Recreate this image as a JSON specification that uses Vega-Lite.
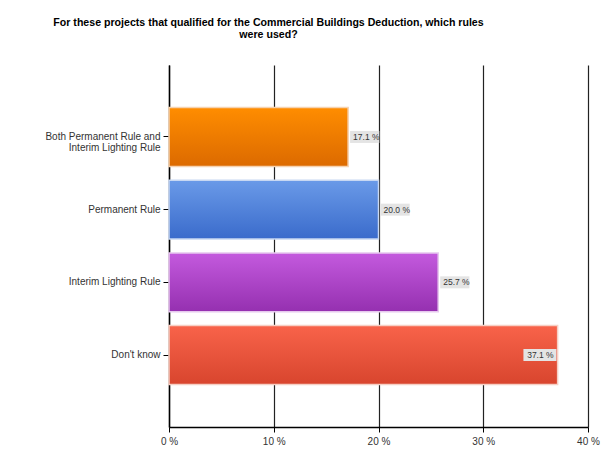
{
  "$schema": "https://vega.github.io/schema/vega-lite/v6.json",
  "width": 419,
  "height": 362,
  "autosize": {"type": "none"},
  "padding": {"left": 169, "top": 65, "right": 19, "bottom": 33},
  "background": "white",
  "title": {
    "text": ["For these projects that qualified for the Commercial Buildings Deduction, which rules", "were used?"],
    "font": "Liberation Sans",
    "fontSize": 10.6,
    "fontWeight": "bold",
    "color": "#000000",
    "anchor": "middle",
    "frame": "group",
    "dx": -110,
    "offset": 24,
    "lineHeight": 12
  },
  "config": {
    "view": {"stroke": null},
    "axis": {"labelFont": "Liberation Sans", "labelFontSize": 10, "labelColor": "#333333", "domainColor": "#000000", "tickColor": "#000000", "domainWidth": 1.5}
  },
  "data": {
    "values": [
      {"rule": "Both Permanent Rule and Interim Lighting Rule", "pct": 17.1, "label": "17.1 %", "pos": "out"},
      {"rule": "Permanent Rule", "pct": 20.0, "label": "20.0 %", "pos": "out"},
      {"rule": "Interim Lighting Rule", "pct": 25.7, "label": "25.7 %", "pos": "out"},
      {"rule": "Don't know", "pct": 37.1, "label": "37.1 %", "pos": "in"}
    ]
  },
  "encoding": {
    "y": {
      "field": "rule", "type": "nominal", "sort": null,
      "scale": {"paddingInner": 0.19, "paddingOuter": 0.585},
      "axis": {
        "title": null, "tickSize": 6, "labelPadding": 3, "labelLineHeight": 11,
        "labelExpr": "datum.value == 'Both Permanent Rule and Interim Lighting Rule' ? ['Both Permanent Rule and', 'Interim Lighting Rule'] : datum.value"
      }
    },
    "x": {
      "field": "pct", "type": "quantitative",
      "scale": {"domain": [0, 40], "nice": false},
      "axis": {
        "title": null, "values": [0, 10, 20, 30, 40], "tickSize": 5, "labelPadding": 4, "labelFlush": false,
        "labelExpr": "datum.value + ' %'", "grid": true, "gridColor": "#222222", "gridWidth": 1.2
      }
    }
  },
  "layer": [
    {
      "transform": [{"filter": "datum.rule == 'Both Permanent Rule and Interim Lighting Rule'"}],
      "mark": {"type": "bar", "stroke": "#f5d2b0", "strokeWidth": 1.5,
        "color": {"gradient": "linear", "x1": 0, "y1": 0, "x2": 0, "y2": 1, "stops": [{"offset": 0, "color": "#ff8d00"}, {"offset": 1, "color": "#dc6a00"}]}}
    },
    {
      "transform": [{"filter": "datum.rule == 'Permanent Rule'"}],
      "mark": {"type": "bar", "stroke": "#c8d8f2", "strokeWidth": 1.5,
        "color": {"gradient": "linear", "x1": 0, "y1": 0, "x2": 0, "y2": 1, "stops": [{"offset": 0, "color": "#6a9ae8"}, {"offset": 1, "color": "#3a6bcb"}]}}
    },
    {
      "transform": [{"filter": "datum.rule == 'Interim Lighting Rule'"}],
      "mark": {"type": "bar", "stroke": "#e6c8ee", "strokeWidth": 1.5,
        "color": {"gradient": "linear", "x1": 0, "y1": 0, "x2": 0, "y2": 1, "stops": [{"offset": 0, "color": "#c45ade"}, {"offset": 1, "color": "#9530b0"}]}}
    },
    {
      "transform": [{"filter": "datum.rule == \"Don't know\""}],
      "mark": {"type": "bar", "stroke": "#f6cfc4", "strokeWidth": 1.5,
        "color": {"gradient": "linear", "x1": 0, "y1": 0, "x2": 0, "y2": 1, "stops": [{"offset": 0, "color": "#f8634a"}, {"offset": 1, "color": "#d8452e"}]}}
    },
    {
      "transform": [{"filter": "datum.pos == 'out'"}],
      "mark": {"type": "point", "filled": true, "fill": "#e4e4e4", "opacity": 1, "strokeWidth": 0, "size": 144,
        "shape": "M0.33,-1 L5.2,-1 L5.2,1 L0.33,1 Z"}
    },
    {
      "transform": [{"filter": "datum.pos == 'in'"}],
      "mark": {"type": "point", "filled": true, "fill": "#e4e4e4", "opacity": 1, "strokeWidth": 0, "size": 144,
        "shape": "M-5.7,-1 L-0.2,-1 L-0.2,1 L-5.7,1 Z"}
    },
    {
      "transform": [{"filter": "datum.pos == 'out'"}],
      "mark": {"type": "text", "align": "left", "dx": 5, "font": "Liberation Sans", "fontSize": 8.5, "color": "#333333"},
      "encoding": {"text": {"field": "label"}}
    },
    {
      "transform": [{"filter": "datum.pos == 'in'"}],
      "mark": {"type": "text", "align": "right", "dx": -4, "font": "Liberation Sans", "fontSize": 8.5, "color": "#333333"},
      "encoding": {"text": {"field": "label"}}
    }
  ]
}
